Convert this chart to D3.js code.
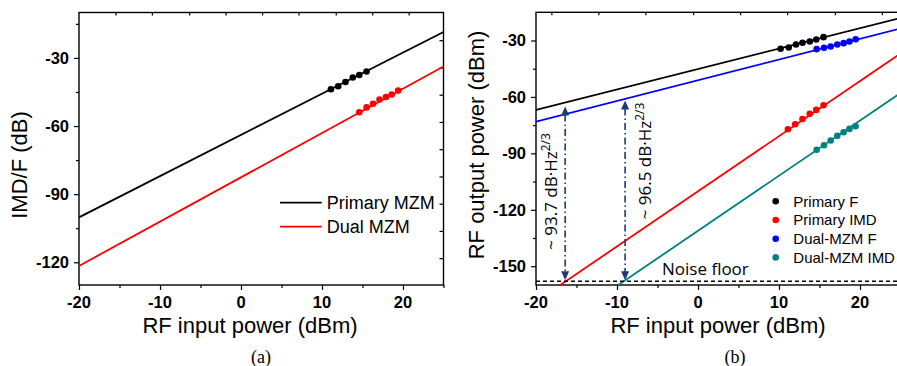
<!DOCTYPE html>
<html><head><meta charset="utf-8">
<script src="https://cdn.jsdelivr.net/npm/d3@7"></script>
<style>body{margin:0;background:#fff}svg{display:block}</style>
</head><body>
<svg id="c" width="897" height="366"></svg>
<script>
// ---------- data ----------
const xTicks = [-20, -10, 0, 10, 20];
const xMinor = [-15, -5, 5, 15, 25];
const leftYTicks = [-30, -60, -90, -120];
const leftYMinor = [-15, -45, -75, -105];
const rightYTicks = [-30, -60, -90, -120, -150];
const rightYMinor = [-45, -75, -105, -135];
const leftTopTicks = [-15.5, -11, -6.4, -1.9, 2.6, 7.1, 11.7, 16.2, 20.7];
const leftRightTicks = [-22.2, -34.2, -46.2, -58.2, -70.2, -82.2, -94.2, -106.2, -118.2];
const rightTopTicks = [-18.1, -12.3, -6.5, -0.6, 5.2, 11.0, 16.9, 22.7];

const leftSeriesNames = ["Primary MZM", "Dual MZM"];
const leftPrimaryLine = [[-20, -100.2], [25, -18.6]];
const leftDualLine = [[-20, -121.6], [25, -33.8]];
const leftPrimaryX = [11.1, 12.0, 12.9, 13.8, 14.6, 15.5];
const leftPrimaryY = [-43.8, -42.5, -40.6, -38.6, -37.5, -36.0];
const leftDualX = [14.6, 15.5, 16.3, 17.1, 17.9, 18.6, 19.4];
const leftDualY = [-53.9, -51.8, -50.2, -48.3, -47.2, -46.1, -44.4];

const rightSeriesNames = ["Primary F", "Primary IMD", "Dual-MZM F", "Dual-MZM IMD"];
const primFLine = [[-20, -66.9], [25, -18.0]];
const dualFLine = [[-20, -73.1], [25, -23.6]];
const primIMDLine = [[-17.0, -160], [25, -36.9]];
const dualIMDLine = [[-9.84, -160], [25, -57.9]];
const primFX = [10.2, 11.2, 12.1, 12.9, 13.8, 14.6, 15.5];
const primFY = [-34.4, -33.7, -32.1, -31.2, -30.5, -29.5, -28.2];
const dualFX = [14.65, 15.56, 16.38, 17.2, 17.98, 18.7, 19.47];
const dualFY = [-34.6, -33.9, -33.2, -32.1, -31.4, -30.5, -29.3];
const primIMDX = [11.1, 12.0, 12.9, 13.8, 14.6, 15.5];
const primIMDY = [-77.2, -74.5, -71.7, -69.0, -66.9, -64.4];
const dualIMDX = [14.65, 15.56, 16.38, 17.2, 17.98, 18.7, 19.45];
const dualIMDY = [-88.1, -85.7, -83.2, -80.7, -78.8, -77.0, -75.6];
const noiseFloor = -158;
const arrowX = [-16.4, -9.0];
const arrowTop = [-65.1, -61.9];
const arrowLabels = ["~ 93.7 dB\u00B7Hz", "~ 96.5 dB\u00B7Hz"];
const arrowSup = "2/3";

// ---------- drawing ----------
const svg = d3.select("#c");
const SANS = "Liberation Sans, Arial, sans-serif";

function panel(opt) {
  const x = d3.scaleLinear().domain([-20, 25]).range(opt.xr);
  const y = d3.scaleLinear().domain(opt.yd).range(opt.yr);
  const g = svg.append("g");
  const id = "clip" + opt.name;
  svg.append("clipPath").attr("id", id).append("rect")
    .attr("x", opt.xr[0]).attr("y", opt.yr[1])
    .attr("width", opt.xr[1] - opt.xr[0]).attr("height", opt.yr[0] - opt.yr[1]);

  const ax = (axisFn, vals, size, tr) => {
    const a = g.append("g").attr("transform", tr)
      .call(axisFn.tickValues(vals).tickSize(size).tickFormat(""));
    a.select(".domain").remove();
    a.selectAll("text").remove();
  };
  ax(d3.axisBottom(x), xTicks, 5, `translate(0,${opt.yr[0]})`);
  ax(d3.axisBottom(x), xMinor, 3, `translate(0,${opt.yr[0]})`);
  ax(d3.axisLeft(y), opt.yTicks, 5, `translate(${opt.xr[0]},0)`);
  ax(d3.axisLeft(y), opt.yMinor, 3, `translate(${opt.xr[0]},0)`);
  ax(d3.axisBottom(x), opt.topTicks, 3, `translate(0,${opt.yr[1]})`);
  if (opt.rightTicks) ax(d3.axisLeft(y), opt.rightTicks, 4, `translate(${opt.xr[1]},0)`);
  g.selectAll(".tick line").attr("stroke", "#000").attr("stroke-width", 1.2);

  // tick labels
  g.selectAll(null).data(xTicks).enter().append("text")
    .attr("x", d => x(d)).attr("y", opt.yr[0] + 23).attr("text-anchor", "middle")
    .attr("font-family", SANS).attr("font-size", 16.5).attr("font-weight", "bold")
    .text(d => String(d));
  g.selectAll(null).data(opt.yTicks).enter().append("text")
    .attr("x", opt.xr[0] - 10).attr("y", d => y(d)).attr("dy", "0.36em").attr("text-anchor", "end")
    .attr("font-family", SANS).attr("font-size", 16.5).attr("font-weight", "bold")
    .text(d => String(d));

  // frame
  g.append("rect").attr("x", opt.xr[0]).attr("y", opt.yr[1])
    .attr("width", opt.xr[1] - opt.xr[0]).attr("height", opt.yr[0] - opt.yr[1])
    .attr("fill", "none").attr("stroke", "#000").attr("stroke-width", 1.4);

  const pl = g.append("g").attr("clip-path", `url(#${id})`);
  const line = d3.line().x(d => x(d[0])).y(d => y(d[1]));
  opt.lines.forEach(l => {
    pl.append("path").attr("d", line(l.data)).attr("fill", "none")
      .attr("stroke", l.color).attr("stroke-width", 1.8);
  });
  opt.dots.forEach(s => {
    pl.selectAll(null).data(d3.zip(s.x, s.y)).enter().append("circle")
      .attr("cx", d => x(d[0])).attr("cy", d => y(d[1])).attr("r", 3.3)
      .attr("fill", s.color);
  });

  // axis titles
  g.append("text").attr("x", opt.xLabelX).attr("y", 333).attr("text-anchor", "middle")
    .attr("font-family", SANS).attr("font-size", 22).text("RF input power (dBm)");
  g.append("text").attr("transform", `translate(${opt.yLabelPos[0]},${opt.yLabelPos[1]}) rotate(-90)`)
    .attr("text-anchor", "middle").attr("font-family", SANS).attr("font-size", 22).text(opt.yLabel);
  g.append("text").attr("x", opt.capX).attr("y", 363).attr("text-anchor", "middle")
    .attr("font-family", "Liberation Serif, Times New Roman, serif").attr("font-size", 18).text(opt.caption);
  return {x, y, g, pl};
}

// ---- panel (a)
const A = panel({
  name: "a", xr: [79, 443.5], yd: [-130, -10], yr: [285, 12.5],
  yTicks: leftYTicks, yMinor: leftYMinor, topTicks: leftTopTicks, rightTicks: leftRightTicks,
  lines: [{data: leftPrimaryLine, color: "#000"}, {data: leftDualLine, color: "#ff0000"}],
  dots: [{x: leftPrimaryX, y: leftPrimaryY, color: "#000"}, {x: leftDualX, y: leftDualY, color: "#ff0000"}],
  xLabelX: 250, yLabel: "IMD/F (dB)", yLabelPos: [27, 165], capX: 261, caption: "(a)"
});
const legA = A.g.append("g");
leftSeriesNames.forEach((n, i) => {
  const yy = 202.7 + i * 24;
  legA.append("line").attr("x1", 280).attr("x2", 321.7).attr("y1", yy).attr("y2", yy)
    .attr("stroke", i === 0 ? "#000" : "#ff0000").attr("stroke-width", 1.8);
  legA.append("text").attr("x", 326.7).attr("y", yy).attr("dy", "0.36em")
    .attr("font-family", SANS).attr("font-size", 18).text(n);
});

// ---- panel (b)
const B = panel({
  name: "b", xr: [536, 900.5], yd: [-160, -15], yr: [285, 12.3],
  yTicks: rightYTicks, yMinor: rightYMinor, topTicks: rightTopTicks, rightTicks: null,
  lines: [{data: primFLine, color: "#000"}, {data: dualFLine, color: "#0000ff"},
          {data: primIMDLine, color: "#ff0000"}, {data: dualIMDLine, color: "#008080"}],
  dots: [{x: primFX, y: primFY, color: "#000"}, {x: dualFX, y: dualFY, color: "#0000ff"},
         {x: primIMDX, y: primIMDY, color: "#ff0000"}, {x: dualIMDX, y: dualIMDY, color: "#008080"}],
  xLabelX: 718, yLabel: "RF output power (dBm)", yLabelPos: [484, 145], capX: 735, caption: "(b)"
});
// noise floor
B.pl.append("line").attr("x1", B.x(-20)).attr("x2", B.x(25))
  .attr("y1", B.y(noiseFloor)).attr("y2", B.y(noiseFloor))
  .attr("stroke", "#000").attr("stroke-width", 1.6).attr("stroke-dasharray", "4,3");
B.g.append("text").attr("x", 662).attr("y", 275)
  .attr("font-family", "Open Sans, sans-serif").attr("font-size", 17).text("Noise floor");
// arrows
const ac = "#1c3a78";
arrowX.forEach((ax, i) => {
  const px = B.x(ax), top = B.y(arrowTop[i]), bot = B.y(noiseFloor) - 1;
  B.g.append("line").attr("x1", px).attr("x2", px).attr("y1", top + 8).attr("y2", bot - 8)
    .attr("stroke", ac).attr("stroke-width", 1.6).attr("stroke-dasharray", "7,3,1.5,3");
  B.g.append("path").attr("d", `M${px},${top} L${px - 4},${top + 9} L${px + 4},${top + 9} Z`).attr("fill", ac);
  B.g.append("path").attr("d", `M${px},${bot} L${px - 4},${bot - 9} L${px + 4},${bot - 9} Z`).attr("fill", ac);
});
const labPos = [[557, 191.5], [651, 161]];
arrowLabels.forEach((t, i) => {
  const tx = B.g.append("text")
    .attr("transform", `translate(${labPos[i][0]},${labPos[i][1]}) rotate(-90)`)
    .attr("text-anchor", "middle").attr("font-family", "Open Sans, sans-serif").attr("font-size", 17);
  tx.append("tspan").text(t);
  tx.append("tspan").attr("dy", -7).attr("font-size", 12).text(arrowSup);
});
// legend (b)
const legColors = ["#000", "#ff0000", "#0000ff", "#008080"];
rightSeriesNames.forEach((n, i) => {
  const yy = 201.3 + i * 18.7;
  B.g.append("circle").attr("cx", 775.7).attr("cy", yy).attr("r", 3.3).attr("fill", legColors[i]);
  B.g.append("text").attr("x", 793.3).attr("y", yy).attr("dy", "0.36em")
    .attr("font-family", SANS).attr("font-size", 15).text(n);
});
</script>
</body></html>
